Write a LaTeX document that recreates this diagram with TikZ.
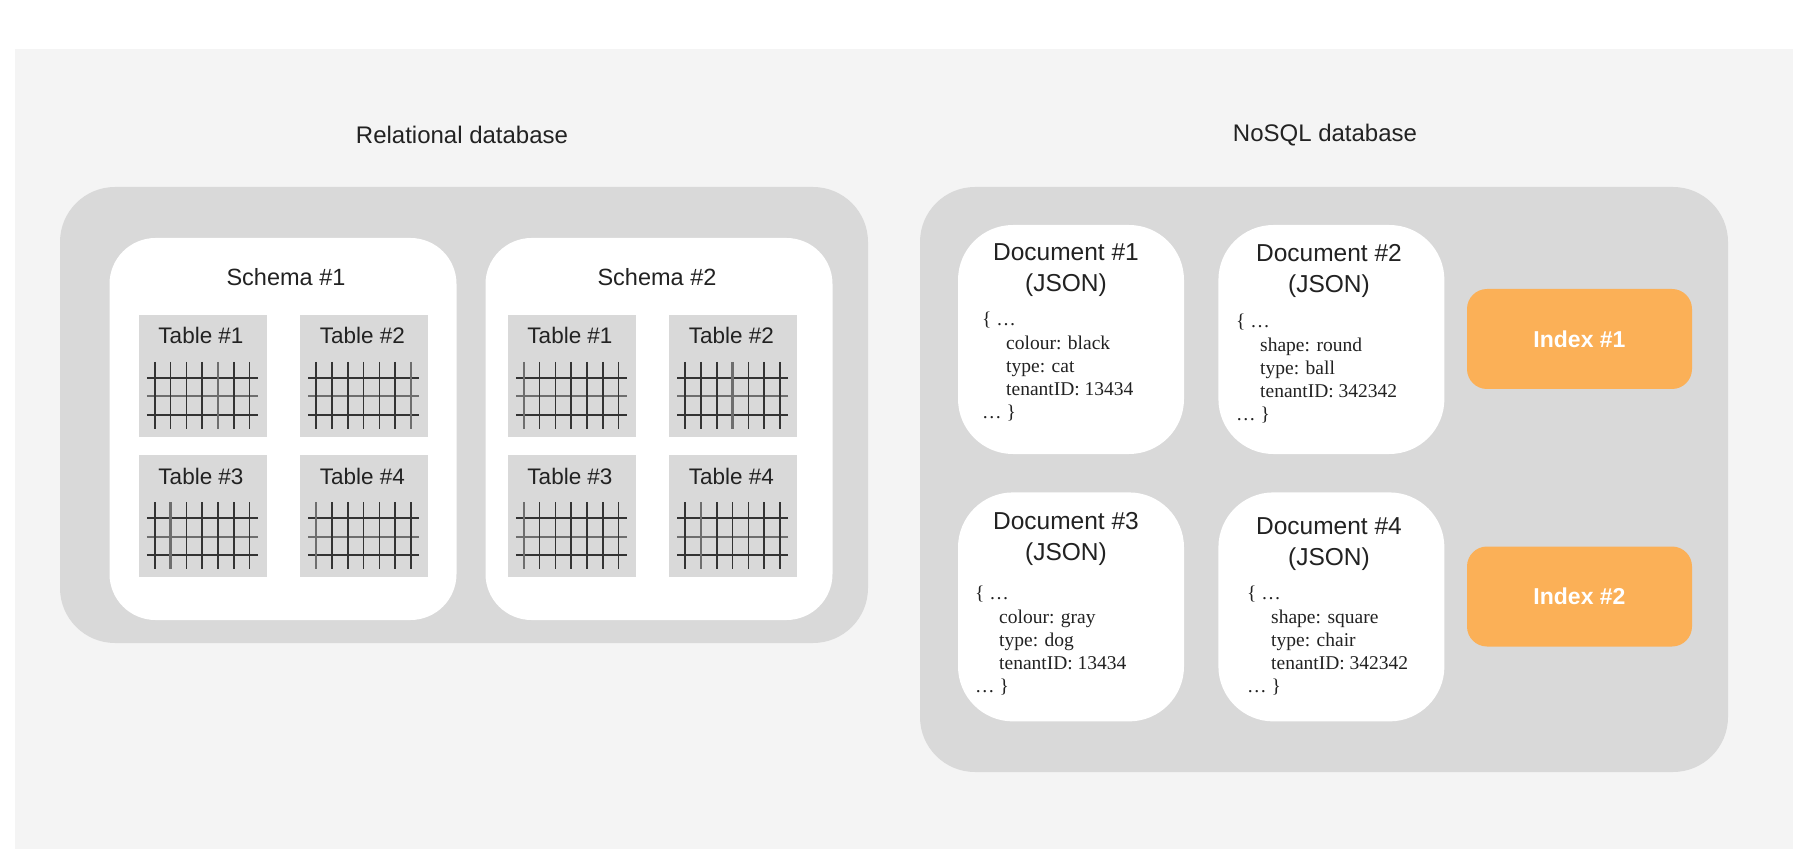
\documentclass[tikz,border=0pt]{standalone}
\usepackage{fontspec}
\setmainfont{Liberation Sans}
\newfontfamily\jsonfont{Liberation Serif}
\usetikzlibrary{positioning}
\definecolor{pagebg}{HTML}{F4F4F4}
\definecolor{boxgray}{HTML}{D9D9D9}
\definecolor{ink}{HTML}{222222}
\definecolor{gridink}{HTML}{333333}
\definecolor{gridlight}{HTML}{6E6E6E}
\definecolor{idxorange}{HTML}{FBB057}
\tikzstyle{dbarea} = [rectangle, rounded corners=55pt, fill=boxgray, minimum width=808pt]
\tikzstyle{schema} = [rectangle, rounded corners=46pt, fill=white, minimum width=347pt, minimum height=382pt]
\tikzstyle{tbl} = [rectangle, fill=boxgray, minimum width=128pt, minimum height=122pt, inner sep=0pt]
\tikzstyle{doc} = [rectangle, rounded corners=55pt, fill=white, minimum width=226pt, minimum height=229pt]
\tikzstyle{idx} = [rectangle, rounded corners=20pt, fill=idxorange, minimum width=225pt, minimum height=100pt, text=white, font=\fontsize{23}{28}\selectfont\bfseries]
\tikzstyle{heading} = [text=ink, font=\fontsize{24}{29}\selectfont]
\tikzstyle{tbllabel} = [text=ink, inner sep=0pt, font=\fontsize{22.5}{27}\selectfont]
\tikzstyle{doctitle} = [text=ink, inner sep=0pt, align=center, font=\fontsize{24.5}{31}\selectfont]
\tikzstyle{docbody} = [text=ink, inner sep=0pt, align=left, anchor=north west, font=\jsonfont\fontsize{19.5}{23.3}\selectfont]
\tikzstyle{gridline} = [draw=gridink, line width=1.6pt]

\begin{document}
\begin{tikzpicture}[x=1pt, y=-1pt]
    \useasboundingbox (0,0) rectangle (1810,866);
    \fill[white] (0,0) rectangle (1810,866);
    \fill[pagebg] (15,49) rectangle (1793,849);

    \node[heading] (reltitle) at (462,135) {Relational database};
    \node[heading] (nosqltitle) at (1325,135) {NoSQL database};

    \node[dbarea, minimum height=456pt] (reldb) at (464,415) {};
    \node[dbarea, minimum height=585pt] (nosqldb) at (1324,479.5) {};

    \node[schema] (schema1) at (283,429) {};
    \node[schema] (schema2) at (659,429) {};
    \node[tbllabel, font=\fontsize{23.5}{28}\selectfont] (schema1lbl) at (286,277) {Schema \#1};
    \node[tbllabel, font=\fontsize{23.5}{28}\selectfont] (schema2lbl) at (657,277) {Schema \#2};

    \node[tbl] (s1t1) at (203,376) {};
    \node[tbl, right=33pt of s1t1] (s1t2) {};
    \node[tbl, below=18pt of s1t1] (s1t3) {};
    \node[tbl, below=18pt of s1t2] (s1t4) {};
    \node[tbl] (s2t1) at (572,376) {};
    \node[tbl, right=33pt of s2t1] (s2t2) {};
    \node[tbl, below=18pt of s2t1] (s2t3) {};
    \node[tbl, below=18pt of s2t2] (s2t4) {};

    \foreach \t/\n/\l in {s1t1/1/4, s1t2/2/6, s1t3/3/1, s1t4/4/0, s2t1/1/0, s2t2/2/3, s2t3/3/0, s2t4/4/1} {
        \node[tbllabel] (\t lbl) at ([xshift=-2pt, yshift=-21pt]\t.north) {Table \#\n};
        \draw[gridline, draw=gridlight, line width=2.4pt] ([shift={(8,81.5)}]\t.north west) -- ([shift={(119,81.5)}]\t.north west);
        \foreach \y in {63,100}
            \draw[gridline] ([shift={(8,\y)}]\t.north west) -- ([shift={(119,\y)}]\t.north west);
        \foreach \i in {0,...,6} {
            \ifnum\i=\l
                \draw[gridline, draw=gridlight, line width=2.4pt] ([shift={(16+15.8*\i,47)}]\t.north west) -- ([shift={(16+15.8*\i,114)}]\t.north west);
            \else
                \draw[gridline] ([shift={(16+15.8*\i,47)}]\t.north west) -- ([shift={(16+15.8*\i,114)}]\t.north west);
            \fi
        }
    }

    \node[doc] (doc1) at (1071,339.5) {};
    \node[doc, right=34pt of doc1] (doc2) {};
    \node[doc, below=38pt of doc1] (doc3) {};
    \node[doc, below=38pt of doc2] (doc4) {};

    \node[doctitle] (doc1title) at (1066,270.5) {Document \#1\\(JSON)};
    \node[doctitle] (doc2title) at (1329,270.5) {Document \#2\\(JSON)};
    \node[doctitle] (doc3title) at (1066,539) {Document \#3\\(JSON)};
    \node[doctitle] (doc4title) at (1329,544) {Document \#4\\(JSON)};

    \node[docbody] (doc1body) at (982,312) {\{ \ldots\\\hspace*{24pt}colour: black\\\hspace*{24pt}type: cat\\\hspace*{24pt}tenantID: 13434\\\ldots\ \}};
    \node[docbody] (doc2body) at (1236,314) {\{ \ldots\\\hspace*{24pt}shape: round\\\hspace*{24pt}type: ball\\\hspace*{24pt}tenantID: 342342\\\ldots\ \}};
    \node[docbody] (doc3body) at (975,586) {\{ \ldots\\\hspace*{24pt}colour: gray\\\hspace*{24pt}type: dog\\\hspace*{24pt}tenantID: 13434\\\ldots\ \}};
    \node[docbody] (doc4body) at (1247,586) {\{ \ldots\\\hspace*{24pt}shape: square\\\hspace*{24pt}type: chair\\\hspace*{24pt}tenantID: 342342\\\ldots\ \}};

    \node[idx] (index1) at (1579.5,339) {Index \#1};
    \node[idx] (index2) at (1579.5,596.5) {Index \#2};
\end{tikzpicture}
\end{document}
